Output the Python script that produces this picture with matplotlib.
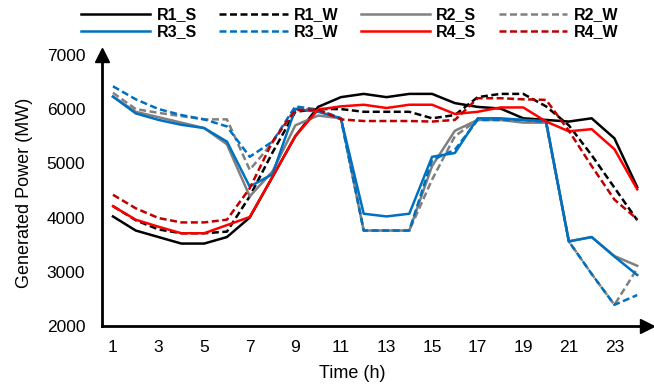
import matplotlib
matplotlib.use('Agg')
import matplotlib.pyplot as plt

hours = list(range(1, 25))

r1_s = [4020, 3760, 3640, 3520, 3520, 3640, 4000, 4750, 5500, 6040, 6220, 6280, 6220, 6280, 6280, 6110,
        6040, 6010, 5830, 5800, 5770, 5830, 5460, 4560]
r1_w = [4210, 3950, 3780, 3710, 3710, 3740, 4390, 5200, 5950, 6000, 6000, 5950, 5950, 5950, 5830, 5890,
        6220, 6280, 6280, 6050, 5700, 5150, 4550, 3950]
r2_s = [6230, 5950, 5850, 5750, 5650, 5350, 4390, 4850, 5700, 5880, 5830, 3760, 3760, 3760, 4950, 5600,
        5800, 5800, 5750, 5750, 3560, 3640, 3290, 3110]
r2_w = [6300, 6000, 5930, 5870, 5810, 5810, 4880, 5380, 6010, 5980, 5830, 3760, 3760, 3760, 4700, 5500,
        5800, 5800, 5800, 5750, 3560, 2960, 2390, 3060]
r3_s = [6230, 5920, 5800, 5710, 5650, 5400, 4570, 4800, 6000, 5950, 5830, 4070, 4020, 4070, 5120, 5190,
        5830, 5830, 5800, 5780, 3560, 3640, 3280, 2940]
r3_w = [6420, 6180, 6000, 5890, 5810, 5680, 5120, 5400, 6050, 5990, 5830, 3760, 3760, 3760, 5060, 5250,
        5800, 5800, 5800, 5760, 3560, 2960, 2390, 2570]
r4_s = [4210, 3960, 3830, 3710, 3710, 3860, 4010, 4750, 5500, 5990, 6050, 6080, 6020, 6080, 6080, 5910,
        5950, 6030, 6030, 5770, 5590, 5630, 5260, 4520]
r4_w = [4420, 4170, 3990, 3910, 3910, 3960, 4540, 5400, 5980, 5990, 5810, 5780, 5780, 5780, 5770, 5800,
        6200, 6200, 6180, 6170, 5600, 4950, 4330, 3970]

series = [
    ('R1_S', r1_s, 'black', '-'),
    ('R1_W', r1_w, 'black', '--'),
    ('R2_S', r2_s, '#808080', '-'),
    ('R2_W', r2_w, '#808080', '--'),
    ('R3_S', r3_s, '#0070C0', '-'),
    ('R3_W', r3_w, '#0070C0', '--'),
    ('R4_S', r4_s, '#FF0000', '-'),
    ('R4_W', r4_w, '#C00000', '--'),
]

plt.rcParams['font.family'] = ['Liberation Sans', 'DejaVu Sans']

fig = plt.figure(figsize=(6.54, 3.89), dpi=100)
ax = fig.add_axes([0.156, 0.162, 0.833, 0.697])

lines = []
for name, vals, color, ls in series:
    if ls == '--':
        ln, = ax.plot(hours, vals, color=color, lw=1.8, linestyle=(0, (2.8, 1.4)), label=name)
    else:
        ln, = ax.plot(hours, vals, color=color, lw=1.8, label=name)
    lines.append(ln)

ax.set_xlim(0.52, 24.42)
ax.set_ylim(2000, 7000)
ax.set_xticks(range(1, 24, 2))
ax.set_yticks(range(2000, 7001, 1000))
ax.tick_params(length=0, labelsize=12.5)
ax.tick_params(axis='y', pad=12)
ax.tick_params(axis='x', pad=10)

for side in ['top', 'right']:
    ax.spines[side].set_visible(False)
for side in ['left', 'bottom']:
    ax.spines[side].set_linewidth(2)

# arrow heads on the axes
ax.plot(1, 0, '>', color='black', markersize=10, transform=ax.transAxes, clip_on=False)
ax.plot(0, 1, '^', color='black', markersize=10, transform=ax.transAxes, clip_on=False)

fig.text(352 / 654, 1 - 373 / 389, 'Time (h)', ha='center', va='center', fontsize=13)
fig.text(25 / 654, 1 - 193 / 389, 'Generated Power (MW)', ha='center', va='center',
         rotation=90, fontsize=13)

# legend is filled row by row: R1_S R1_W R2_S R2_W / R3_S R3_W R4_S R4_W
order = [0, 4, 1, 5, 2, 6, 3, 7]
fig.legend([lines[i] for i in order], [series[i][0] for i in order],
           loc='center', bbox_to_anchor=(0.535, 0.94), ncol=4, frameon=False,
           prop={'weight': 'bold', 'size': 11.5}, handlelength=4.3, handletextpad=0.4,
           columnspacing=1.4, labelspacing=0.1, borderpad=0)

fig.savefig('out.png', dpi=100)
